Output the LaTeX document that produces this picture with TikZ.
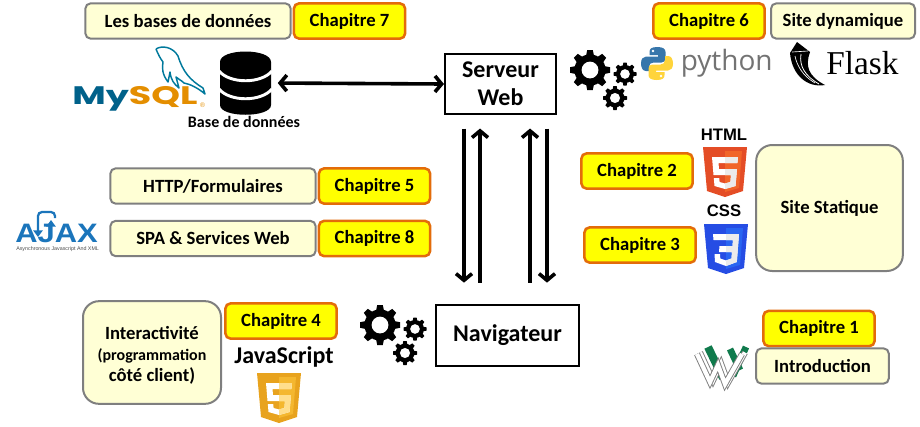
\documentclass[tikz,border=0pt]{standalone}
\usepackage{fontspec}
\setmainfont{Carlito}
\newfontfamily\arialfont{Liberation Sans}
\newfontfamily\popfont{Poppins}
\newfontfamily\pyfont{Open Sans}
\newfontfamily\flaskfont{Liberation Serif}
\usetikzlibrary{arrows.meta}
\definecolor{chapfill}{RGB}{255, 255, 0}
\definecolor{chapline}{RGB}{227, 108, 10}
\definecolor{themefill}{RGB}{255, 255, 213}
\definecolor{themeline}{RGB}{127, 127, 127}
\definecolor{mysqlblue}{RGB}{0, 97, 138}
\definecolor{mysqlorange}{RGB}{228, 142, 0}
\definecolor{ajaxblue}{RGB}{27, 117, 187}
\definecolor{pyblue}{RGB}{55, 118, 171}
\definecolor{pyyellow}{RGB}{255, 212, 59}
\definecolor{wgreen}{RGB}{16, 122, 76}
\definecolor{htmldark}{RGB}{228, 77, 38}
\definecolor{htmllight}{RGB}{241, 101, 41}
\definecolor{cssdark}{RGB}{38, 77, 228}
\definecolor{csslight}{RGB}{41, 101, 241}
\definecolor{jsdark}{RGB}{232, 163, 30}
\definecolor{jslight}{RGB}{244, 183, 47}
\definecolor{jsglyph}{RGB}{255, 222, 140}
\newcommand{\shieldbody}{(0,0) -- (44,0) -- (40,44) -- (22,50) -- (4,44) -- cycle}
\newcommand{\shieldfive}{(9,10) -- (35,10) -- (34.4,16) -- (15.5,16) -- (16,22) -- (34,22) -- (32.5,39) -- (22,42) -- (11.5,39) -- (10.8,31) -- (16.2,31) -- (16.6,35) -- (22,36.5) -- (27.4,35) -- (28,28) -- (10.5,28) -- cycle}
\newcommand{\shieldthree}{(9,10) -- (35,10) -- (32.8,38) -- (22,42) -- (11,38) -- (10.5,30) -- (16,30) -- (16.3,34.5) -- (22,36.5) -- (27.5,34.5) -- (28,28) -- (15,28) -- (15.5,22) -- (28.5,22) -- (29,16) -- (9.5,16) -- cycle}
\tikzset{
    gear/.pic={
        \fill (0,0) circle (.78);
        \foreach \a in {0,45,...,315}
            \fill[rotate=\a] (-.2,.7) -- (-.14,1) -- (.14,1) -- (.2,.7) -- cycle;
        \fill[white] (0,0) circle (.42);
    },
    gearset/.pic={
        \pic[scale=20] at (0,0) {gear};
        \pic[scale=11.5] at (35,4) {gear};
        \pic[scale=12] at (25,28) {gear};
    },
    pic dark/.store in=\shielddark,
    pic light/.store in=\shieldlight,
    pic glyph/.store in=\shieldglyph,
    pic glyph=black!8,
    fiveshield/.pic={
        \fill[\shielddark] \shieldbody;
        \fill[\shieldlight] (22,4) -- (39,4) -- (36,41) -- (22,45) -- cycle;
        \fill[white] \shieldfive;
        \begin{scope}
            \clip (22,0) rectangle (44,50);
            \fill[\shieldglyph] \shieldfive;
        \end{scope}
    },
    threeshield/.pic={
        \fill[\shielddark] \shieldbody;
        \fill[\shieldlight] (22,4) -- (39,4) -- (36,41) -- (22,45) -- cycle;
        \fill[white] \shieldthree;
        \begin{scope}
            \clip (22,0) rectangle (44,50);
            \fill[\shieldglyph] \shieldthree;
        \end{scope}
    },
    pyhalf/.pic={
        \fill[pic actions] (16.5,0) .. controls (10,0) and (8.5,2) .. (8.5,5) -- (8.5,8) -- (17,8) -- (17,9.5) -- (5,9.5) .. controls (2,9.5) and (0,12) .. (0,16.5) .. controls (0,21) and (2,24) .. (5,24) -- (8,24) -- (8,20) .. controls (8,17) and (10,15.5) .. (12.5,15.5) -- (20.5,15.5) .. controls (23,15.5) and (24.5,14) .. (24.5,11.5) -- (24.5,5) .. controls (24.5,2) and (22,0) .. (16.5,0) -- cycle;
        \fill[white] (12,4) circle (1.4);
    }
}

\begin{document}
\begin{tikzpicture}[
    x=.75pt, y=-.75pt,
    chapter/.style={rectangle, draw=chapline, fill=chapfill, line width=1.9pt, rounded corners=4pt, minimum width=83.5pt, minimum height=26.5pt, inner sep=0pt, font=\bfseries\fontsize{14}{16}\selectfont},
    theme/.style={rectangle, draw=themeline, fill=themefill, line width=1.5pt, rounded corners=4pt, minimum height=26.5pt, inner sep=0pt, font=\bfseries\fontsize{14}{16}\selectfont},
    server/.style={rectangle, draw=black, line width=1.8pt, inner sep=0pt, align=center, font=\bfseries\fontsize{18}{21}\selectfont},
    icon/.style={rectangle, inner sep=0pt},
    arrow/.style={{Straight Barb[length=5pt,width=12pt]}-{Straight Barb[length=5pt,width=12pt]}, line width=2.7pt},
    oneway/.style={-{Straight Barb[length=5pt,width=12pt]}, line width=2.7pt}
]
\useasboundingbox (0,0) rectangle (920,426);

% Top left
\node[theme, minimum width=154pt] (bases) at (188,21) {Les bases de données};
\node[chapter] (chap7) at (349.5,21) {Chapitre 7};

% Top right
\node[chapter] (chap6) at (709,21) {Chapitre 6};
\node[theme, minimum width=108pt] (dynamique) at (843,21) {Site dynamique};

% Middle left
\node[theme, minimum width=154pt] (http) at (213,186) {HTTP/Formulaires};
\node[chapter] (chap5) at (374.5,186) {Chapitre 5};
\node[theme, minimum width=154pt] (spa) at (213,238.5) {SPA \& Services Web};
\node[chapter] (chap8) at (374.5,238.5) {Chapitre 8};

% Middle right
\node[chapter] (chap2) at (637,171) {Chapitre 2};
\node[chapter] (chap3) at (640,245) {Chapitre 3};
\node[theme, minimum width=110pt, minimum height=94.5pt, rounded corners=12pt] (statique) at (829.5,208) {Site Statique};

% Bottom left
\node[theme, minimum width=103.5pt, minimum height=77pt, rounded corners=12pt, align=center] (interact) at (152,352.5) {\rule{0pt}{14pt}Interactivité\\\fontsize{12}{13.5}\selectfont (programmation\\côté client)};
\node[chapter] (chap4) at (281,321) {Chapitre 4};
\node[font=\bfseries\fontsize{18}{20}\selectfont] (jslabel) at (284,357) {JavaScript};

% Bottom right
\node[chapter] (chap1) at (819,328.5) {Chapitre 1};
\node[theme, minimum width=99.5pt] (intro) at (822.5,366) {Introduction};

% Client and server
\node[server, minimum width=83pt, minimum height=45pt] (serveur) at (500.5,84) {Serveur\\Web};
\node[server, minimum width=107pt, minimum height=45.5pt] (navigateur) at (507.5,335.5) {Navigateur};

% Database
\node[icon, minimum width=38pt, minimum height=45pt] (db) at (245.5,83) {};
\fill (220,62) .. controls (220,48) and (271,48) .. (271,62) -- (271,105) .. controls (271,118) and (220,118) .. (220,105) -- cycle;
\draw[white, line width=2.2pt] (219,71) .. controls (230,84) and (261,84) .. (272,71);
\draw[white, line width=2.2pt] (219,89) .. controls (230,102) and (261,102) .. (272,89);
\node[font=\bfseries\fontsize{12}{14}\selectfont] (dblabel) at (244,122) {Base de données};

% MySQL
\node[font=\popfont\bfseries\fontsize{19}{20}\selectfont, xscale=1.44, transform shape, anchor=west, inner sep=0pt] (mysql) at (72,99) {\textcolor{mysqlblue}{My}\textcolor{mysqlorange}{SQL}};
\node[font=\arialfont\fontsize{5}{6}\selectfont, text=mysqlorange, inner sep=0pt] (mysqlmark) at (202.5,105) {®};
\draw[mysqlblue!85!cyan, line width=1.1pt, line join=round] (156,49) .. controls (162,45) and (173,47) .. (178,56) .. controls (183,72) and (190,80) .. (203,88) -- (205,94) .. controls (198,88) and (190,84) .. (184,83) .. controls (181,80) and (178,79) .. (176,77) -- (179,88) .. controls (174,84) and (171,80) .. (170,72) -- (168,82) .. controls (162,74) and (162,68) .. (163,62) .. controls (160,58) and (158,54) .. (156,49);

% Python and Flask
\pic[pyblue] at (641,47) {pyhalf};
\pic[pyyellow, rotate=180] at (673,80) {pyhalf};
\node[font=\pyfont\fontsize{21}{24}\selectfont, text=black!55, anchor=west, inner sep=0pt] (python) at (680.5,63) {python};
\fill (797,42) -- (810,52) .. controls (805,66) and (808,76) .. (825,85) .. controls (808,88) and (792,76) .. (790,53) -- cycle;
\draw[white, line width=.5pt] (795,56) .. controls (797,66) and (803,76) .. (815,83);
\draw[white, line width=.6pt] (801,54) .. controls (799,66) and (805,76) .. (819,84);
\draw[white, line width=.5pt] (792,52) -- (808,51);
\node[font=\flaskfont\fontsize{25}{28}\selectfont, anchor=west, inner sep=0pt] (flask) at (826,63) {Flask};

% Gears
\pic at (590,70) {gearset};
\pic at (380,325) {gearset};

% Shields
\node[font=\arialfont\bfseries\fontsize{12.5}{14}\selectfont] (htmllabel) at (724,135) {HTML};
\node[font=\arialfont\bfseries\fontsize{12.5}{14}\selectfont] (csslabel) at (724,211) {CSS};
\pic[pic dark=htmldark, pic light=htmllight] at (703,147) {fiveshield};
\pic[pic dark=cssdark, pic light=csslight] at (704,224) {threeshield};
\pic[pic dark=jsdark, pic light=jslight, pic glyph=jsglyph] at (257,373) {fiveshield};

% Ajax
\node[font=\arialfont\bfseries\fontsize{20}{22}\selectfont, text=ajaxblue, xscale=1.16, transform shape, anchor=west, inner sep=0pt] (ajax) at (15,233) {AJAX};
\node[font=\arialfont\fontsize{4}{5}\selectfont, text=black!70, anchor=west, inner sep=0pt] (ajaxsub) at (16,249) {Asynchronous Javascript And XML};
\draw[ajaxblue, line width=1.7pt, rounded corners=3pt, -{Triangle[length=5pt,width=7pt]}] (55,218) -- (55,212) -- (38,212) -- (38,237);
\draw[ajaxblue, line width=1.7pt, -{Triangle[length=5pt,width=7pt]}] (51,232) -- (51,220);

% W3C
\draw[wgreen, line width=6pt] (708,347) -- (723,378);
\draw[wgreen, line width=5pt] (730,349) -- (740,370);
\draw[wgreen, line width=5pt] (746,347) -- (733,376);
\foreach \off in {3,0} {
    \draw[themeline, line width=4.6pt, line join=miter] (697+\off,354-\off/2) -- (710+\off,382-\off/2) -- (718+\off,365-\off/2) -- (725+\off,384-\off/2) -- (742+\off,354-\off/2);
    \draw[white, line width=3.2pt, line join=miter] (697+\off,354-\off/2) -- (710+\off,382-\off/2) -- (718+\off,365-\off/2) -- (725+\off,384-\off/2) -- (742+\off,354-\off/2);
}

% Arrows
\coordinate (trackA) at (464,0);
\coordinate (trackB) at (480,0);
\coordinate (trackC) at (530,0);
\coordinate (trackD) at (547,0);
\draw[arrow, shorten <=5pt, shorten >=0pt] (db.east) -- (serveur.west);
\draw[oneway, shorten <=10pt, shorten >=16pt] (serveur.south -| trackA) -- (navigateur.north -| trackA);
\draw[oneway, shorten <=16pt, shorten >=10pt] (navigateur.north -| trackB) -- (serveur.south -| trackB);
\draw[oneway, shorten <=16pt, shorten >=10pt] (navigateur.north -| trackC) -- (serveur.south -| trackC);
\draw[oneway, shorten <=10pt, shorten >=16pt] (serveur.south -| trackD) -- (navigateur.north -| trackD);

\end{tikzpicture}
\end{document}
